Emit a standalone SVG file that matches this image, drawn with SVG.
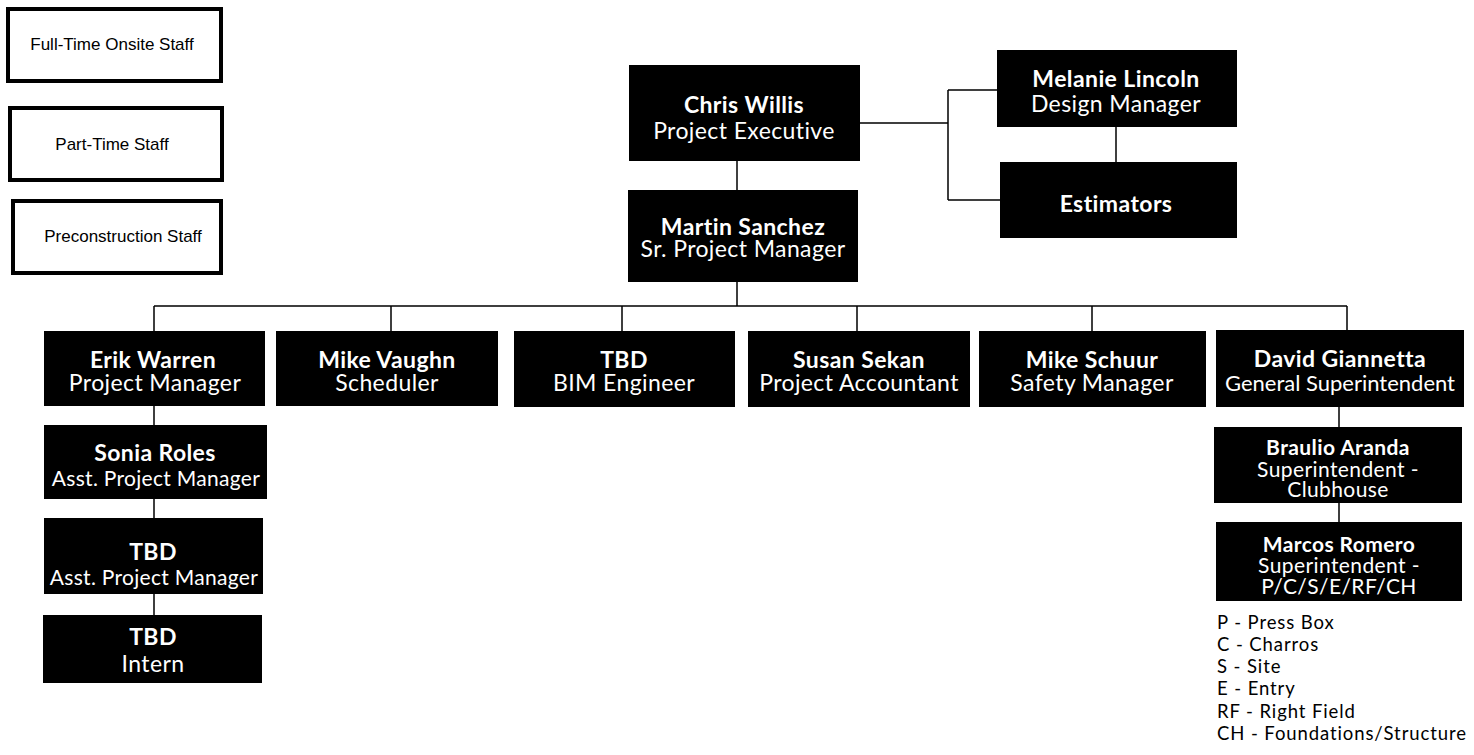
<svg xmlns="http://www.w3.org/2000/svg" width="1474" height="755" viewBox="0 0 1474 755">
<style>
.bg{fill:#fff}
.legend rect{fill:#fff;stroke:#000;stroke-width:4}
.legend text{font-family:"Liberation Sans",Arial,sans-serif;font-size:17px;fill:#000;text-anchor:middle}
.node rect{fill:#000}
.node text{font-family:Lato,"Noto Sans",sans-serif;font-size:23px;letter-spacing:0.4px;fill:#fff;text-anchor:middle}
.node .n{font-weight:bold}
.node.s text{font-size:21px;letter-spacing:0.4px}
.node .t{font-size:22px;letter-spacing:0}
.node .a{font-size:21px;letter-spacing:0.3px}
.conn path{fill:none;stroke:#000;stroke-width:1.5}
.key text{font-family:Lato,"Noto Sans",sans-serif;font-size:18.5px;letter-spacing:0.9px;fill:#000}
</style>
<rect class="bg" x="0" y="0" width="1474" height="755"/>
<g id="legend" class="legend">
<g id="legend-fulltime"><rect x="8" y="9" width="213" height="72"/><text x="112" y="50">Full-Time Onsite Staff</text></g>
<g id="legend-parttime"><rect x="10" y="108" width="212" height="72"/><text x="112" y="150">Part-Time Staff</text></g>
<g id="legend-precon"><rect x="13" y="201" width="208" height="72"/><text x="123" y="242">Preconstruction Staff</text></g>
</g>
<g id="connectors" class="conn">
<path d="M737 161V190"/>
<path d="M860 123H948M948 90V200M948 90H997M948 200H1000"/>
<path d="M1116 127V162"/>
<path d="M737 282V306M154 306H1347"/>
<path d="M154 306V331M391 306V331M622 306V331M857 306V331M1092 306V331M1347 306V330"/>
<path d="M154 406V425M154 499V518M154 594V615"/>
<path d="M1339 407V427M1339 503V522"/>
</g>
<g id="chris" class="node"><rect x="629" y="65" width="231" height="96"/><text class="n" x="744" y="113">Chris Willis</text><text x="744" y="139">Project Executive</text></g>
<g id="melanie" class="node"><rect x="997" y="50" width="240" height="77"/><text class="n" x="1116" y="87">Melanie Lincoln</text><text x="1116" y="112">Design Manager</text></g>
<g id="estimators" class="node"><rect x="1000" y="162" width="237" height="76"/><text class="n" x="1116" y="212">Estimators</text></g>
<g id="martin" class="node"><rect x="628" y="190" width="230" height="92"/><text class="n" x="743" y="235">Martin Sanchez</text><text x="743" y="257">Sr. Project Manager</text></g>
<g id="erik" class="node"><rect x="44" y="331" width="221" height="75"/><text class="n" x="153" y="368">Erik Warren</text><text x="155" y="391">Project Manager</text></g>
<g id="vaughn" class="node"><rect x="276" y="331" width="222" height="75"/><text class="n" x="387" y="368">Mike Vaughn</text><text x="387" y="391">Scheduler</text></g>
<g id="tbd-bim" class="node"><rect x="514" y="331" width="221" height="76"/><text class="n" x="624" y="368">TBD</text><text x="624" y="391">BIM Engineer</text></g>
<g id="susan" class="node"><rect x="748" y="331" width="222" height="76"/><text class="n" x="859" y="368">Susan Sekan</text><text x="859" y="391">Project Accountant</text></g>
<g id="schuur" class="node"><rect x="979" y="331" width="227" height="76"/><text class="n" x="1092" y="368">Mike Schuur</text><text x="1092" y="391">Safety Manager</text></g>
<g id="david" class="node"><rect x="1216" y="330" width="248" height="77"/><text class="n" x="1340" y="367">David Giannetta</text><text class="t" x="1340" y="391">General Superintendent</text></g>
<g id="sonia" class="node"><rect x="44" y="425" width="223" height="74"/><text class="n" x="155" y="461">Sonia Roles</text><text class="a" x="156" y="486">Asst. Project Manager</text></g>
<g id="tbd-apm" class="node"><rect x="44" y="518" width="219" height="76"/><text class="n" x="153" y="560">TBD</text><text class="a" x="154" y="585">Asst. Project Manager</text></g>
<g id="tbd-intern" class="node"><rect x="43" y="615" width="219" height="68"/><text class="n" x="153" y="645">TBD</text><text x="153" y="672">Intern</text></g>
<g id="braulio" class="node s"><rect x="1214" y="427" width="248" height="76"/><text class="n" x="1338" y="455">Braulio Aranda</text><text x="1338" y="477">Superintendent -</text><text x="1338" y="497">Clubhouse</text></g>
<g id="marcos" class="node s"><rect x="1216" y="522" width="246" height="79"/><text class="n" x="1339" y="552">Marcos Romero</text><text x="1339" y="573">Superintendent -</text><text x="1339" y="594">P/C/S/E/RF/CH</text></g>
<g id="key" class="key">
<text x="1217" y="629">P - Press Box</text>
<text x="1217" y="651">C - Charros</text>
<text x="1217" y="673">S - Site</text>
<text x="1217" y="695">E - Entry</text>
<text x="1217" y="718">RF - Right Field</text>
<text x="1217" y="740">CH - Foundations/Structure</text>
</g>
</svg>
